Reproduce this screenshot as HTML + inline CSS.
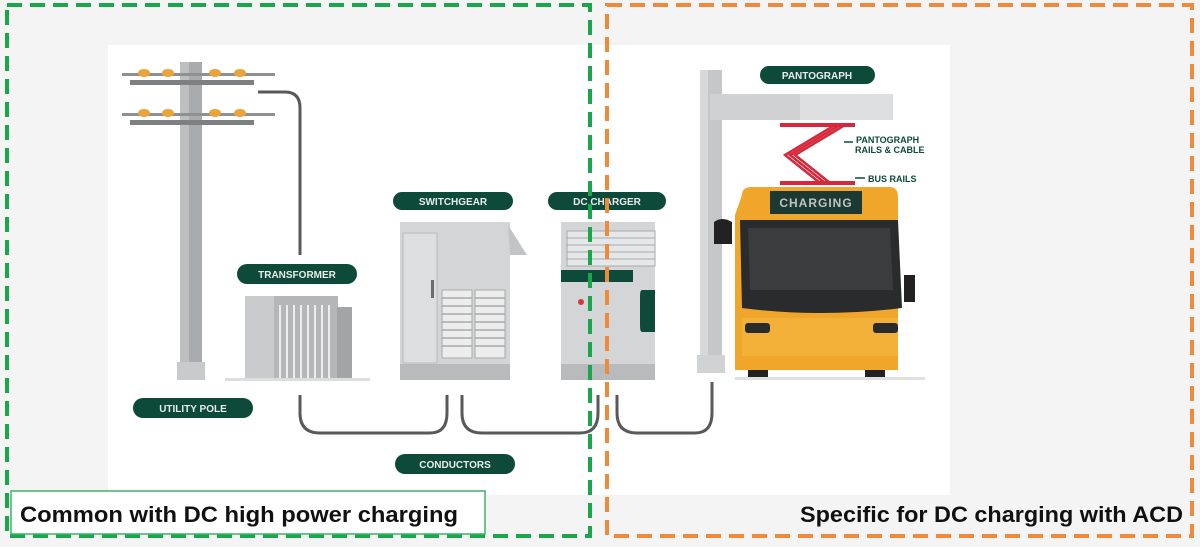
<!DOCTYPE html>
<html><head><meta charset="utf-8"><style>
html,body{margin:0;padding:0;background:#f4f4f4;}
svg{display:block}
text{font-family:"Liberation Sans",sans-serif;}
</style></head><body>
<svg width="1200" height="547" viewBox="0 0 1200 547" xmlns="http://www.w3.org/2000/svg">
<rect width="1200" height="547" fill="#f4f4f4"/>
<rect x="108" y="45" width="842" height="450" fill="#ffffff"/>

<rect x="180" y="62" width="22" height="310" fill="#a9abad"/>
<rect x="180" y="62" width="9" height="310" fill="#bdbfc1"/>
<rect x="177" y="362" width="28" height="18" fill="#c8cacb"/>
<rect x="122" y="73" width="153" height="3" fill="#8e9092"/>
<rect x="130" y="80" width="124" height="5" fill="#7d7f81"/>
<rect x="122" y="113" width="153" height="3" fill="#8e9092"/>
<rect x="130" y="120" width="124" height="5" fill="#7d7f81"/>
<g fill="#e9a43a">
<ellipse cx="144" cy="73" rx="6" ry="4"/><ellipse cx="168" cy="73" rx="6" ry="4"/><ellipse cx="215" cy="73" rx="6" ry="4"/><ellipse cx="240" cy="73" rx="6" ry="4"/>
<ellipse cx="144" cy="113" rx="6" ry="4"/><ellipse cx="168" cy="113" rx="6" ry="4"/><ellipse cx="215" cy="113" rx="6" ry="4"/><ellipse cx="240" cy="113" rx="6" ry="4"/>
</g>
<path d="M258 92 H285 Q300 92 300 108 V255" fill="none" stroke="#58595b" stroke-width="3"/>

<rect x="245" y="296" width="30" height="84" fill="#c9cbcc"/>
<rect x="274" y="296" width="64" height="84" fill="#b4b6b8"/>
<g stroke="#ecedee" stroke-width="2">
<line x1="280" y1="305" x2="280" y2="380"/><line x1="287" y1="305" x2="287" y2="380"/><line x1="294" y1="305" x2="294" y2="380"/><line x1="301" y1="305" x2="301" y2="380"/><line x1="308" y1="305" x2="308" y2="380"/><line x1="315" y1="305" x2="315" y2="380"/><line x1="322" y1="305" x2="322" y2="380"/><line x1="329" y1="305" x2="329" y2="380"/>
</g>
<rect x="337" y="307" width="15" height="73" fill="#a2a4a6"/>
<rect x="225" y="378" width="145" height="3" fill="#dcdddd"/>

<rect x="400" y="222" width="110" height="150" fill="#d3d5d6"/>
<rect x="403" y="233" width="34" height="130" fill="#dcdedf" stroke="#b8babb"/>
<path d="M508 225 L527 255 H510 Z" fill="#c2c4c5"/>
<rect x="431" y="280" width="3" height="18" fill="#6a6c6e"/>
<rect x="442" y="290" width="30" height="68" fill="#ededee" stroke="#a8aaab"/>
<rect x="475" y="290" width="30" height="68" fill="#ededee" stroke="#a8aaab"/>
<g stroke="#a8aaab" stroke-width="1.5">
<line x1="442" y1="298" x2="472" y2="298"/><line x1="442" y1="306" x2="472" y2="306"/><line x1="442" y1="314" x2="472" y2="314"/><line x1="442" y1="322" x2="472" y2="322"/><line x1="442" y1="330" x2="472" y2="330"/><line x1="442" y1="338" x2="472" y2="338"/><line x1="442" y1="346" x2="472" y2="346"/>
<line x1="475" y1="298" x2="505" y2="298"/><line x1="475" y1="306" x2="505" y2="306"/><line x1="475" y1="314" x2="505" y2="314"/><line x1="475" y1="322" x2="505" y2="322"/><line x1="475" y1="330" x2="505" y2="330"/><line x1="475" y1="338" x2="505" y2="338"/><line x1="475" y1="346" x2="505" y2="346"/>
</g>
<rect x="400" y="364" width="110" height="16" fill="#b8babb"/>

<rect x="561" y="222" width="94" height="158" fill="#d3d5d6"/>
<rect x="567" y="231" width="88" height="35" fill="#e6e7e8" stroke="#a8aaab"/>
<g stroke="#a8aaab"><line x1="567" y1="238" x2="655" y2="238"/><line x1="567" y1="245" x2="655" y2="245"/><line x1="567" y1="252" x2="655" y2="252"/><line x1="567" y1="259" x2="655" y2="259"/></g>
<rect x="561" y="270" width="72" height="12" fill="#0d4a3a"/>
<circle cx="581" cy="302" r="3" fill="#d23b3b"/>
<path d="M642 290 H655 V332 H642 Q640 332 640 326 V296 Q640 290 642 290Z" fill="#0d4a3a"/>
<rect x="561" y="364" width="94" height="16" fill="#b8babb"/>

<g fill="none" stroke="#58595b" stroke-width="3">
<path d="M300 395 V413 Q300 433 320 433 H430 Q447 433 447 413 V395"/>
<path d="M462 395 V413 Q462 433 482 433 H580 Q598 433 598 413 V395"/>
<path d="M617 395 V413 Q617 433 637 433 H695 Q712 433 712 413 V382"/>
</g>

<rect x="700" y="70" width="22" height="290" fill="#c5c7c8"/>
<rect x="700" y="70" width="8" height="290" fill="#d6d8d9"/>
<rect x="697" y="355" width="28" height="18" fill="#d0d2d3"/>
<rect x="710" y="94" width="183" height="26" fill="#cfd1d2"/>
<rect x="800" y="94" width="93" height="26" fill="#dcdedf"/>
<rect x="780" y="123" width="75" height="4" fill="#d6283a"/>
<rect x="780" y="181" width="75" height="4" fill="#d6283a"/>
<g fill="none" stroke="#d6283a" stroke-width="2.5">
<path d="M840 125 L790 155 L825 183"/><path d="M835 125 L785 155 L820 183"/><path d="M845 125 L795 155 L830 183"/>
</g>
<path d="M853 142 H844" stroke="#0d4a3a" stroke-width="1.5"/>
<path d="M865 178 H855" stroke="#0d4a3a" stroke-width="1.5"/>
<text x="856" y="143" font-size="9" font-weight="bold" fill="#0d4a3a">PANTOGRAPH</text>
<text x="855" y="153" font-size="9" font-weight="bold" fill="#0d4a3a">RAILS &amp; CABLE</text>
<text x="868" y="182" font-size="9" font-weight="bold" fill="#0d4a3a">BUS RAILS</text>

<path d="M742 195 Q742 187 752 187 H890 Q898 187 898 198 V370 H735 V215 Z" fill="#f0a62a"/>
<rect x="770" y="191" width="92" height="23" fill="#1d3a32"/>
<text x="816" y="207" font-size="12" font-weight="bold" fill="#bfc3c1" text-anchor="middle" letter-spacing="1">CHARGING</text>
<path d="M740 220 H898 L902 308 Q820 318 742 308 Z" fill="#2a2b2c"/>
<path d="M748 228 H890 L893 290 H750 Z" fill="#3b3c3e"/>
<path d="M714 222 Q722 216 732 222 V244 H714 Z" fill="#222"/>
<rect x="904" y="275" width="11" height="27" fill="#222"/>
<rect x="742" y="318" width="156" height="38" fill="#f3b13a"/>
<rect x="745" y="323" width="25" height="10" rx="3" fill="#2a2b2c"/>
<rect x="873" y="323" width="25" height="10" rx="3" fill="#2a2b2c"/>
<rect x="748" y="370" width="20" height="9" fill="#222"/><rect x="865" y="370" width="20" height="9" fill="#222"/>
<rect x="735" y="377" width="190" height="3" fill="#e0e0e0"/>

<g fill="#0d4a3a">
<rect x="237" y="264" width="120" height="20" rx="10"/>
<rect x="133" y="398" width="120" height="20" rx="10"/>
<rect x="393" y="192" width="120" height="18" rx="9"/>
<rect x="548" y="192" width="118" height="18" rx="9"/>
<rect x="395" y="454" width="120" height="20" rx="10"/>
<rect x="760" y="66" width="115" height="18" rx="9"/>
</g>
<g fill="#e8ecea" font-size="10" font-weight="bold" text-anchor="middle">
<text x="297" y="278">TRANSFORMER</text>
<text x="193" y="412">UTILITY POLE</text>
<text x="453" y="205">SWITCHGEAR</text>
<text x="607" y="205">DC CHARGER</text>
<text x="455" y="468">CONDUCTORS</text>
<text x="817" y="79">PANTOGRAPH</text>
</g>

<rect x="7" y="5" width="583" height="531" fill="none" stroke="#1aa64a" stroke-width="4" stroke-dasharray="15 8"/>
<rect x="607" y="5" width="585" height="531" fill="none" stroke="#ee8a3a" stroke-width="4" stroke-dasharray="15 8"/>
<rect x="11" y="491" width="474" height="43" fill="#ffffff" stroke="#3bb36a" stroke-width="1.5"/>
<text x="20" y="522" font-size="22" font-weight="bold" fill="#111" textLength="438" lengthAdjust="spacingAndGlyphs">Common with DC high power charging</text>
<text x="800" y="522" font-size="22" font-weight="bold" fill="#111" textLength="383" lengthAdjust="spacingAndGlyphs">Specific for DC charging with ACD</text>
</svg>
</body></html>
